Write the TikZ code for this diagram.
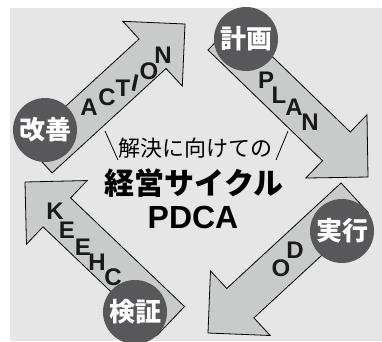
\documentclass[tikz,border=0pt]{standalone}
\usepackage{fontspec}
\setmainfont{Liberation Sans}
\newfontfamily\cjk{Noto Sans CJK JP}
\usetikzlibrary{calc}
\definecolor{bggray}{RGB}{230,230,230}
\definecolor{arrowgray}{RGB}{201,202,202}
\definecolor{circgray}{RGB}{88,88,90}
\newcommand\pdcaarrow[2]{%
  \coordinate (hb) at ($(#2)!44pt!(#1)$);
  \draw[arrowbox] ($(#1)!20pt!90:(#2)$) -- ($(hb)!20pt!90:(#2)$) -- ($(hb)!44pt!90:(#2)$) -- (#2)
    -- ($(hb)!44pt!-90:(#2)$) -- ($(hb)!20pt!-90:(#2)$) -- ($(#1)!20pt!-90:(#2)$) -- cycle;
}
\tikzset{
  arrowbox/.style={fill=arrowgray, draw=black, line width=0.8pt, line join=miter},
  letter/.style={font=\fontsize{24}{24}\selectfont\bfseries, inner sep=0pt, text=black!90},
  stage/.style={circle, fill=circgray, minimum size=64pt, inner sep=0pt, text=white,
     font=\cjk\fontsize{26}{26}\selectfont\bfseries},
  slash/.style={line width=0.8pt, draw=black}
}
\begin{document}
\begin{tikzpicture}[x=1pt, y=-1pt]
\useasboundingbox (0,0) rectangle (382,341);
\fill[bggray] (10,8) rectangle (382,341);
% arrows
\coordinate (actT) at (38.6,158.2); \coordinate (actP) at (185,24);
\coordinate (plaT) at (221.9,35.6); \coordinate (plaP) at (368,177);
\coordinate (doT) at (354.6,197.7); \coordinate (doP) at (208,333);
\coordinate (chkT) at (170.7,321); \coordinate (chkP) at (25,182);
\pdcaarrow{actT}{actP}
\pdcaarrow{plaT}{plaP}
\pdcaarrow{doT}{doP}
\pdcaarrow{chkT}{chkP}
% letters
\node[letter] (a1) at (89,107) {A};
\node[letter] (a2) at (107,97) {C};
\node[letter] (a3) at (123,88) {T};
\node[letter, rotate=-12] (a4) at (135,83) {I};
\node[letter] (a5) at (149,71) {O};
\node[letter] (a6) at (163,55) {N};
\node[letter] (p1) at (266,80) {P};
\node[letter] (p2) at (279,95) {L};
\node[letter] (p3) at (294,107) {A};
\node[letter] (p4) at (310,122) {N};
\node[letter] (d1) at (295,250) {D};
\node[letter] (d2) at (281,268) {O};
\node[letter] (c1) at (55,211) {K};
\node[letter] (c2) at (67,230) {E};
\node[letter] (c3) at (83,247) {E};
\node[letter] (c4) at (97,262) {H};
\node[letter] (c5) at (113,277) {C};
% circles
\node[stage] (kaizen) at (45,130) {改善};
\node[stage] (keikaku) at (246,39) {計画};
\node[stage] (jikko) at (342,231) {実行};
\node[stage] (kensho) at (135,312) {検証};
% centre text
\node[font=\cjk\fontsize{22}{22}\selectfont, inner sep=0pt] (sub) at (195,148) {解決に向けての};
\coordinate (sl1) at (105,131); \coordinate (sl2) at (118,160);
\coordinate (sr1) at (288,131); \coordinate (sr2) at (276,160);
\draw[slash] (sl1) -- (sl2);
\draw[slash] (sr1) -- (sr2);
\node[font=\cjk\fontsize{30}{30}\selectfont\bfseries, inner sep=0pt] (title) at (194,183) {経営サイクル};
\node[font=\fontsize{32}{32}\selectfont\bfseries, inner sep=0pt] (pdca) at (193,217) {PDCA};
\end{tikzpicture}
\end{document}
